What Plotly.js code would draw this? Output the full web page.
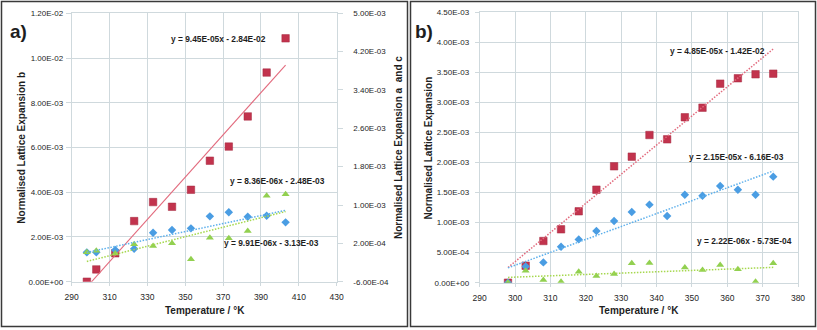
<!DOCTYPE html>
<html>
<head>
<meta charset="utf-8">
<script src="https://cdn.plot.ly/plotly-3.0.1.min.js"></script>
<style>html,body{margin:0;padding:0;background:#fff;}#chart{width:817px;height:330px;}</style>
</head>
<body>
<div id="chart"></div>
<script>
// ---------- Panel a data ----------
const tempA = [298, 303, 313, 323, 333, 343, 353, 363, 373, 383, 393, 403];
const aB = [0.0, 0.55e-3, 1.27e-3, 2.71e-3, 3.56e-3, 3.35e-3, 4.11e-3, 5.41e-3, 6.04e-3, 7.39e-3, 9.35e-3, 10.88e-3];
const aA = [1.2e-5, 1.2e-5, 6.1e-5, 8.9e-5, 4.23e-4, 4.78e-4, 5.13e-4, 7.63e-4, 8.47e-4, 7.57e-4, 7.77e-4, 6.38e-4];
const aC = [1.2e-5, 4.7e-5, -1.0e-5, 1.79e-4, 1.44e-4, 2.0e-4, -1.34e-4, 3.18e-4, 3.04e-4, 4.57e-4, 1.195e-3, 1.223e-3];
const trendSlopeA = [9.45e-5, 8.36e-6, 9.91e-6];      // b, a, c
const trendInterceptA = [-2.84e-2, -2.48e-3, -3.13e-3];
const trendLabelA = ["y = 9.45E-05x - 2.84E-02", "y = 8.36E-06x - 2.48E-03", "y = 9.91E-06x - 3.13E-03"];
const xTicksA = [290, 310, 330, 350, 370, 390, 410, 430];
const yTicksALeft = [0, 2e-3, 4e-3, 6e-3, 8e-3, 1.0e-2, 1.2e-2];
const yTicksARight = [-6e-4, 2e-4, 1.0e-3, 1.8e-3, 2.6e-3, 3.4e-3, 4.2e-3, 5.0e-3];

// ---------- Panel b data ----------
const tempB = [298, 303, 308, 313, 318, 323, 328, 333, 338, 343, 348, 353, 358, 363, 368, 373];
const bRed = [0.0, 0.283e-3, 0.694e-3, 0.888e-3, 1.188e-3, 1.548e-3, 1.937e-3, 2.098e-3, 2.458e-3, 2.386e-3, 2.753e-3, 2.913e-3, 3.313e-3, 3.402e-3, 3.468e-3, 3.479e-3];
const bBlue = [0.0, 0.27e-3, 0.338e-3, 0.599e-3, 0.721e-3, 0.86e-3, 1.027e-3, 1.176e-3, 1.299e-3, 1.11e-3, 1.465e-3, 1.448e-3, 1.609e-3, 1.548e-3, 1.465e-3, 1.765e-3];
const tempBGreen = [298, 303, 308, 313, 318, 323, 328, 333, 338, 348, 353, 358, 363, 368, 373];
const bGreen = [0.0, 0.2e-3, 0.044e-3, 0.017e-3, 0.183e-3, 0.111e-3, 0.144e-3, 0.322e-3, 0.327e-3, 0.255e-3, 0.211e-3, 0.294e-3, 0.222e-3, 0.017e-3, 0.322e-3];
const trendSlopeB = [4.85e-5, 2.15e-5, 2.22e-6];
const trendInterceptB = [-1.42e-2, -6.16e-3, -5.73e-4];
const trendLabelB = ["y = 4.85E-05x - 1.42E-02", "y = 2.15E-05x - 6.16E-03", "y = 2.22E-06x - 5.73E-04"];
const xTicksB = [290, 300, 310, 320, 330, 340, 350, 360, 370, 380];
const yTicksB = [0, 5e-4, 1.0e-3, 1.5e-3, 2.0e-3, 2.5e-3, 3.0e-3, 3.5e-3, 4.0e-3, 4.5e-3];

// ---------- helpers ----------
function fmtE(v) {
  if (Math.abs(v) < 1e-12) return "0.00E+00";
  const s = v.toExponential(2);
  const [m, e] = s.split("e");
  const n = parseInt(e, 10);
  return m + "E" + (n < 0 ? "-" : "+") + String(Math.abs(n)).padStart(2, "0");
}
const W = 817, H = 330;
const px = x => x / W;
const py = y => 1 - y / H;
function trend(slope, icpt, x0, x1) {
  return { x: [x0, x1], y: [slope * x0 + icpt, slope * x1 + icpt] };
}

const RED = "#c2334d", BLUE = "#4a9de3", GREEN = "#92d050";
const RED_T = "#e26b7e", BLUE_T = "#5db0ec", GREEN_T = "#a6d84e";
const GRID = "#cfd9dd";
const DOT = "1.5px,1.5px";
const TICKFONT = { family: "Liberation Sans, Arial, sans-serif", size: 8, color: "#262626" };

const sq = { symbol: "square", size: 7.5, color: RED, line: { color: "#a52a40", width: 0.5 } };
const dm = { symbol: "diamond", size: 6.5, color: BLUE, line: { width: 0 } };
const tr = { symbol: "triangle-up", size: 7, color: GREEN, line: { width: 0 } };

const data = [];
// panel a markers
data.push({ x: tempA, y: aB, xaxis: "x", yaxis: "y", mode: "markers", marker: sq, type: "scatter" });
data.push({ x: tempA, y: aA, xaxis: "x", yaxis: "y3", mode: "markers", marker: dm, type: "scatter" });
data.push({ x: tempA, y: aC, xaxis: "x", yaxis: "y3", mode: "markers", marker: tr, type: "scatter" });
// panel a trends
let t;
t = trend(trendSlopeA[0], trendInterceptA[0], tempA[0], tempA[tempA.length - 1]);
data.push({ x: t.x, y: t.y, xaxis: "x", yaxis: "y", mode: "lines", line: { color: RED_T, width: 1.1, dash: "solid" } });
t = trend(trendSlopeA[1], trendInterceptA[1], tempA[0], tempA[tempA.length - 1]);
data.push({ x: t.x, y: t.y, xaxis: "x", yaxis: "y3", mode: "lines", line: { color: BLUE_T, width: 1.5, dash: DOT } });
t = trend(trendSlopeA[2], trendInterceptA[2], tempA[0], tempA[tempA.length - 1]);
data.push({ x: t.x, y: t.y, xaxis: "x", yaxis: "y3", mode: "lines", line: { color: GREEN_T, width: 1.5, dash: DOT } });

// panel b markers
data.push({ x: tempB, y: bRed, xaxis: "x2", yaxis: "y2", mode: "markers", marker: sq, type: "scatter" });
data.push({ x: tempB, y: bBlue, xaxis: "x2", yaxis: "y2", mode: "markers", marker: dm, type: "scatter" });
data.push({ x: tempBGreen, y: bGreen, xaxis: "x2", yaxis: "y2", mode: "markers", marker: tr, type: "scatter" });
// panel b trends
const bCols = [RED_T, BLUE_T, GREEN_T];
for (let i = 0; i < 3; i++) {
  t = trend(trendSlopeB[i], trendInterceptB[i], tempB[0], tempB[tempB.length - 1]);
  data.push({ x: t.x, y: t.y, xaxis: "x2", yaxis: "y2", mode: "lines", line: { color: bCols[i], width: 1.5, dash: DOT } });
}

function xax(domain, ticks, anchor) {
  return {
    domain: domain, anchor: anchor, range: [ticks[0], ticks[ticks.length - 1]],
    tickvals: ticks, ticktext: ticks.map(String), tickfont: Object.assign({}, TICKFONT, { size: 8.5 }),
    showgrid: true, gridcolor: GRID, gridwidth: 1, zeroline: false,
    showline: true, linecolor: GRID, mirror: true,
    ticks: "outside", ticklen: 3, tickcolor: GRID, ticklabelstandoff: 4, fixedrange: true
  };
}
function yax(domain, ticks, anchor, side, grid) {
  return {
    domain: domain, anchor: anchor, side: side, range: [ticks[0], ticks[ticks.length - 1]],
    tickvals: ticks, ticktext: ticks.map(fmtE), tickfont: TICKFONT,
    showgrid: grid, gridcolor: GRID, gridwidth: 1, zeroline: false,
    showline: grid, linecolor: GRID, mirror: grid,
    ticks: "outside", ticklen: 5, tickcolor: GRID, fixedrange: true
  };
}

const domXA = [px(71.7), px(336.7)], domYA = [py(281.7), py(13.3)];
const domXB = [px(479.7), px(798)], domYB = [py(282.7), py(12.3)];

const layout = {
  width: W, height: H, margin: { l: 0, r: 0, t: 0, b: 0 },
  paper_bgcolor: "#ffffff", plot_bgcolor: "#ffffff", showlegend: false,
  font: { family: "Liberation Sans, Arial, sans-serif", color: "#262626" },
  xaxis: xax(domXA, xTicksA, "y"),
  yaxis: Object.assign(yax(domYA, yTicksALeft, "x", "left", true), { ticklabelstandoff: 1 }),
  yaxis3: Object.assign(yax(domYA, yTicksARight, "x", "right", false), { overlaying: "y", ticklabelstandoff: 9 }),
  xaxis2: xax(domXB, xTicksB, "y2"),
  yaxis2: Object.assign(yax(domYB, yTicksB, "x2", "left", true), { ticklen: 4, ticklabelstandoff: 4 }),
  shapes: [
    { type: "rect", xref: "paper", yref: "paper", x0: px(1.5), x1: px(407.5), y0: py(326.5), y1: py(1.5), line: { color: "#3a3a3a", width: 1.5 } },
    { type: "rect", xref: "paper", yref: "paper", x0: px(410.5), x1: px(815.5), y0: py(326.5), y1: py(1.5), line: { color: "#3a3a3a", width: 1.5 } }
  ],
  annotations: []
};

function ann(text, x, y, size, angle, bold) {
  layout.annotations.push({
    xref: "paper", yref: "paper", x: px(x), y: py(y), xanchor: "center", yanchor: "middle",
    text: bold ? "<b>" + text + "</b>" : text, showarrow: false, textangle: angle || 0,
    font: { family: "Liberation Sans, Arial, sans-serif", size: size, color: "#1e1e1e" }
  });
}
// panel labels
ann("a)", 18, 32, 19, 0, true);
ann("b)", 424, 32, 19, 0, true);
// axis titles
ann("Normalised Lattice Expansion b", 20.7, 148, 10, -90, true);
ann("Normalised Lattice Expansion a  and c", 398, 148, 10, -90, true);
ann("Temperature / °K", 205, 310, 10, 0, true);
ann("Normalised Lattice Expansion", 427.5, 148, 10, -90, true);
ann("Temperature / °K", 639, 310, 10, 0, true);
// trendline equations
ann(trendLabelA[0], 218, 39, 8.4, 0, true);
ann(trendLabelA[1], 277, 181, 8.4, 0, true);
ann(trendLabelA[2], 271, 243, 8.4, 0, true);
ann(trendLabelB[0], 717, 51, 8.4, 0, true);
ann(trendLabelB[1], 736, 157, 8.4, 0, true);
ann(trendLabelB[2], 744, 241, 8.4, 0, true);

Plotly.newPlot("chart", data, layout, { staticPlot: true, displayModeBar: false });
</script>
</body>
</html>
